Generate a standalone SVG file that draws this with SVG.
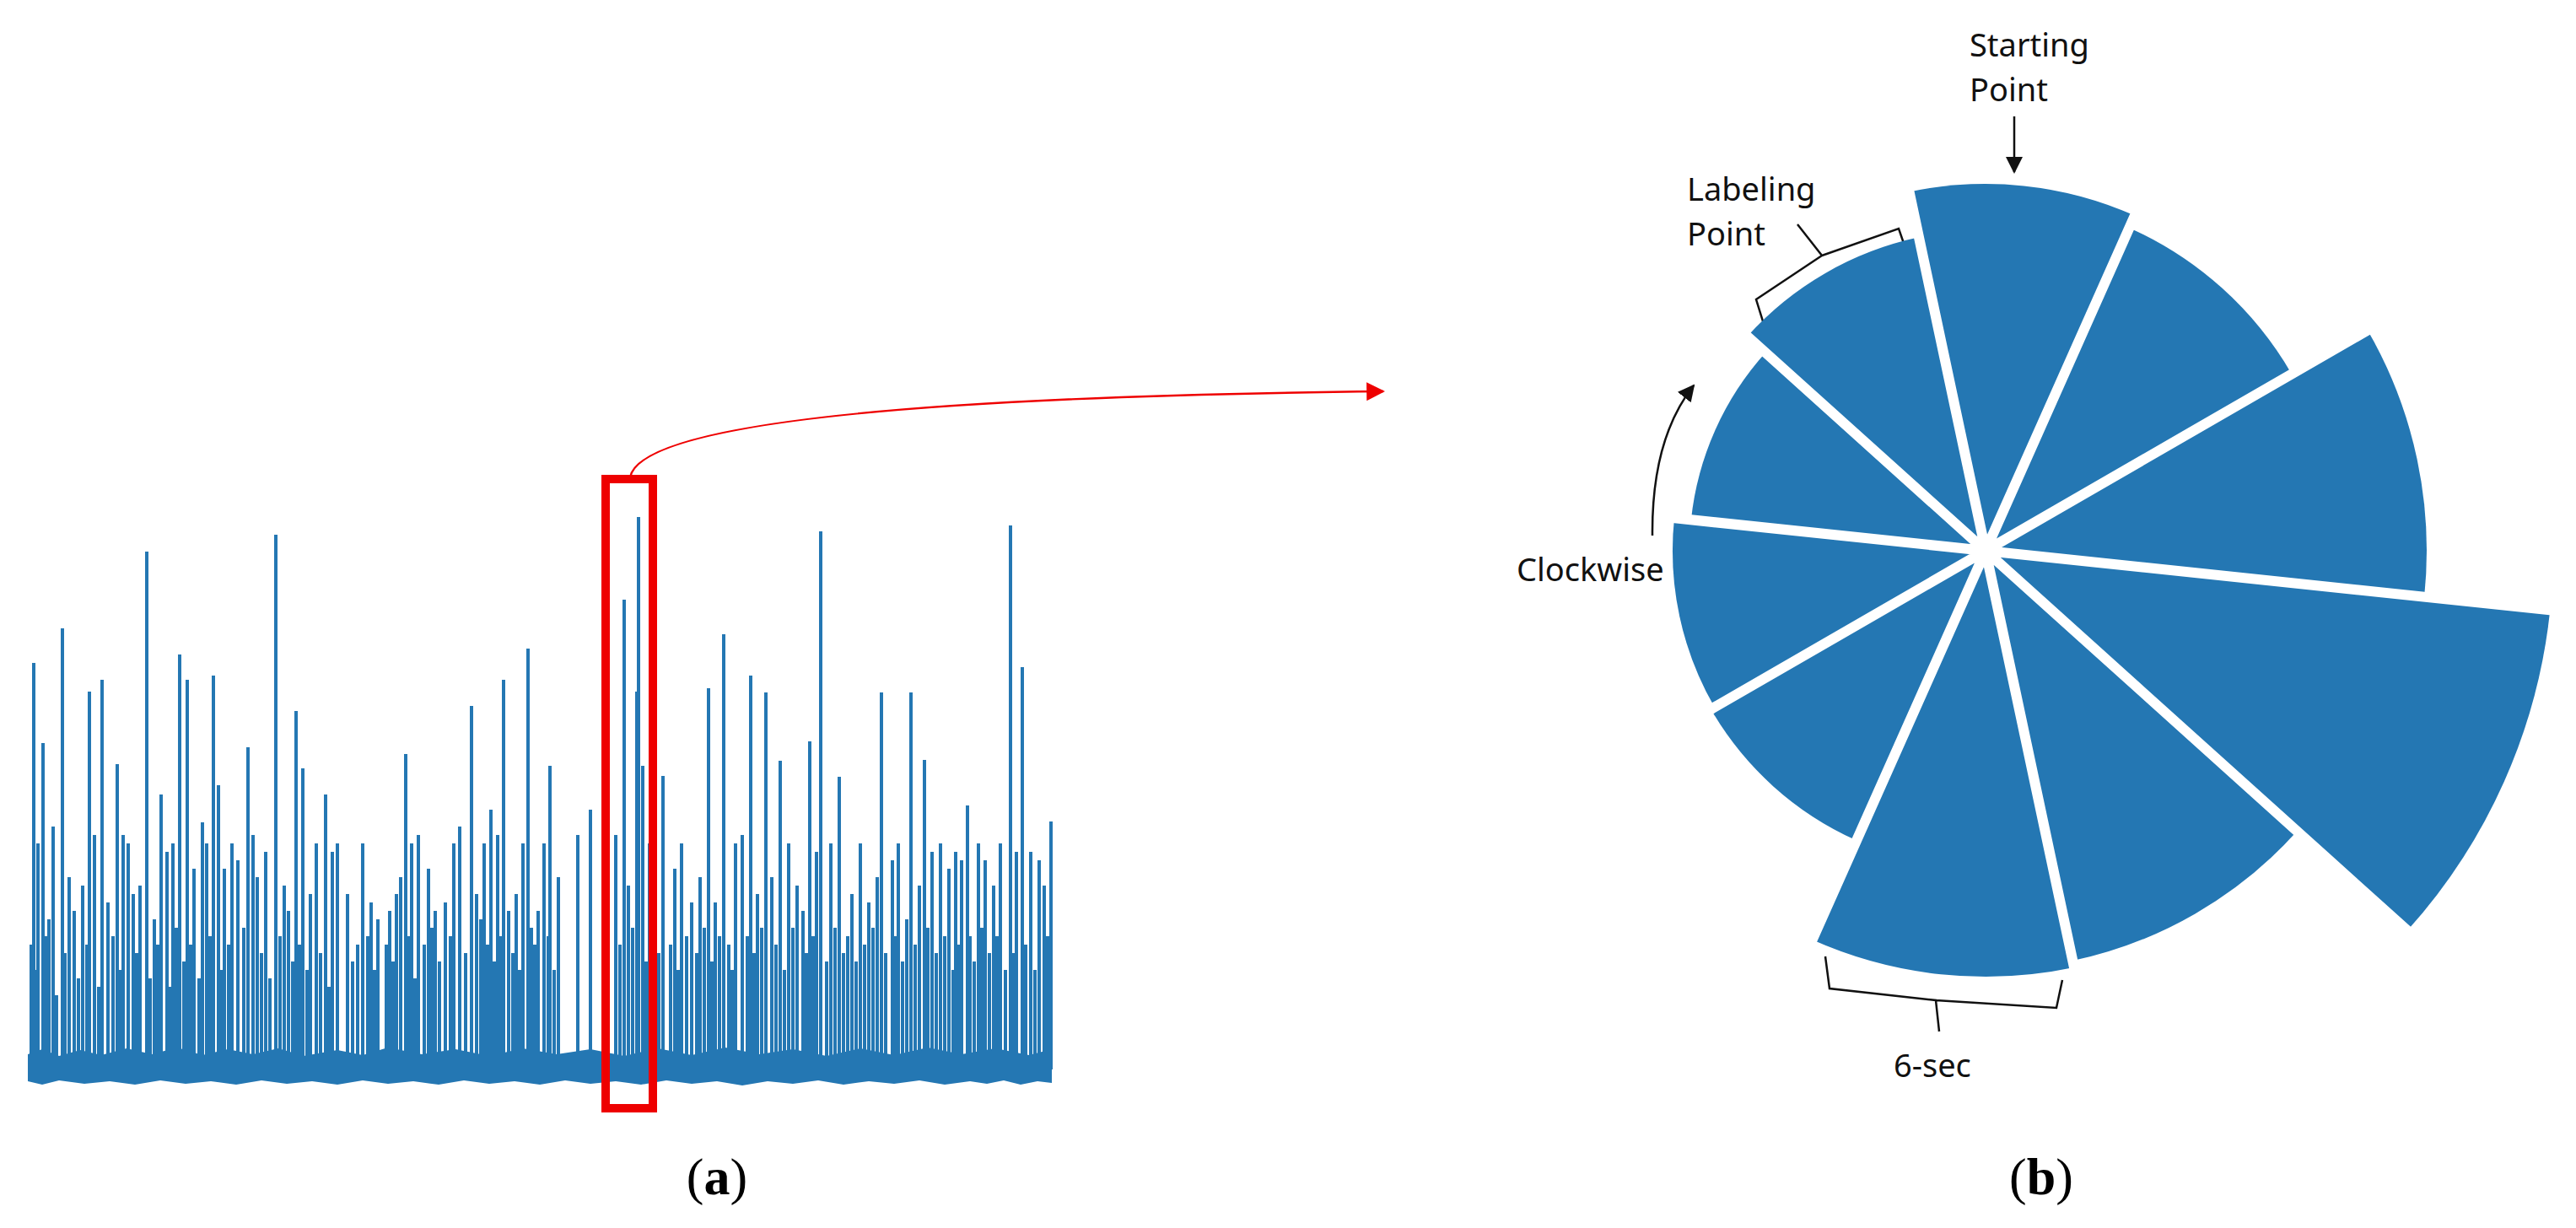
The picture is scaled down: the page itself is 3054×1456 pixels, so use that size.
<svg xmlns="http://www.w3.org/2000/svg" width="3054" height="1456" viewBox="0 0 3054 1456">
<style>
.sig{stroke:#2477b3;stroke-width:4;fill:none}
.sec{fill:#2477b3}
.gap{stroke:#fff;stroke-width:12}
.lbl{font-family:"Noto Sans","DejaVu Sans",sans-serif;font-size:38px;fill:#111}
.cap{font-family:"Liberation Serif",serif;font-size:62px;fill:#000}
.bk{stroke:#111;stroke-width:2.5;fill:none}
</style>
<defs>
<marker id="ar" viewBox="0 0 10 10" refX="9" refY="5" markerWidth="22" markerHeight="22" markerUnits="userSpaceOnUse" orient="auto"><path d="M0,0L10,5L0,10z" fill="#e00"/></marker>
<marker id="ak" viewBox="0 0 10 10" refX="9" refY="5" markerWidth="20" markerHeight="20" markerUnits="userSpaceOnUse" orient="auto"><path d="M0,0L10,5L0,10z" fill="#111"/></marker>
</defs>
<rect width="3054" height="1456" fill="#fff"/>
<g id="signal">
<path d="M33 1250L50 1244L70 1252L95 1245L120 1251L150 1243L180 1250L210 1242L240 1251L270 1244L300 1250L330 1243L360 1252L400 1245L430 1251L460 1242L500 1250L540 1244L580 1252L620 1243L660 1250L700 1244L740 1252L780 1243L820 1251L860 1242L900 1250L940 1244L980 1252L1020 1243L1060 1251L1100 1242L1140 1250L1180 1243L1220 1251L1247 1244V1284L1230 1282L1210 1286L1190 1281L1170 1285L1150 1282L1120 1286L1090 1281L1060 1285L1030 1282L1000 1286L970 1281L940 1285L910 1282L880 1287L850 1282L820 1285L790 1281L760 1286L730 1282L700 1285L670 1281L640 1286L610 1282L580 1285L550 1281L520 1286L490 1282L460 1285L430 1281L400 1286L370 1282L340 1285L310 1281L280 1286L250 1282L220 1285L190 1281L160 1286L130 1282L100 1285L70 1281L50 1286L33 1282Z" fill="#2477b3"/>
<path class="sig" d="M40 1268V786M51 1268V881M74 1268V745M106 1268V820M121 1268V806M139 1268V906M174 1268V654M191 1268V942M213 1268V776M222 1268V806M253 1268V801M259 1268V931M294 1268V886M327 1268V634M351 1268V843M359 1268V911M386 1268V942M481 1268V894M559 1268V837M597 1268V806M626 1268V769M652 1268V908M740 1268V711M757 1268V613M755 1268V820M762 1268V908M786 1268V920M840 1268V816M858 1268V752M890 1268V801M908 1268V821M925 1268V902M960 1268V879M973 1268V630M995 1268V921M1045 1268V821M1080 1268V821M1096 1268V901M1147 1268V955M1198 1268V623M1212 1268V791M1246 1268V974
M45 1268V1000M58 1268V1090M63 1268V980M82 1268V1040M88 1268V1080M98 1268V1050M112 1268V990M128 1268V1070M146 1268V990M152 1268V1000M158 1268V1060M166 1268V1050M183 1268V1090M198 1268V1010M205 1268V1000M230 1268V1030M240 1268V975M245 1268V1000M266 1268V1030M275 1268V1000M282 1268V1020M300 1268V990M305 1268V1040M315 1268V1010M337 1268V1050M342 1268V1080M368 1268V1060M375 1268V1000M394 1268V1010M400 1268V1000M412 1268V1060M430 1268V1000M440 1268V1070M448 1268V1090M462 1268V1080M470 1268V1060M475 1268V1040M488 1268V1000M496 1268V990M508 1268V1030M516 1268V1080M528 1268V1070M538 1268V1000M545 1268V980M565 1268V1060M574 1268V1000M582 1268V960M590 1268V990M603 1268V1080M612 1268V1060M620 1268V1000M638 1268V1080M645 1268V1000M662 1268V1040M685 1268V990M700 1268V960M730 1268V990M745 1268V1050M770 1268V1000M800 1268V1030M808 1268V1000M820 1268V1070M830 1268V1040M848 1268V1070M872 1268V1000M880 1268V990M898 1268V1060M915 1268V1040M935 1268V1000M945 1268V1050M952 1268V1080M968 1268V1010M985 1268V1000M1010 1268V1060M1020 1268V1000M1030 1268V1070M1040 1268V1040M1058 1268V1020M1065 1268V1000M1075 1268V1090M1090 1268V1050M1105 1268V1010M1115 1268V1000M1125 1268V1030M1133 1268V1010M1140 1268V1020M1160 1268V1000M1168 1268V1020M1178 1268V1050M1186 1268V1000M1205 1268V1010M1222 1268V1010M1232 1268V1020M1238 1268V1050
M37 1268V1120M43 1268V1150M54 1268V1110M67 1268V1180M77 1268V1130M93 1268V1160M103 1268V1120M117 1268V1170M134 1268V1110M142 1268V1150M162 1268V1130M178 1268V1160M187 1268V1120M201 1268V1170M209 1268V1100M218 1268V1140M226 1268V1120M236 1268V1160M249 1268V1110M263 1268V1150M271 1268V1120M289 1268V1100M310 1268V1130M320 1268V1160M332 1268V1110M347 1268V1140M355 1268V1120M364 1268V1150M380 1268V1130M390 1268V1170M418 1268V1140M424 1268V1120M436 1268V1110M444 1268V1150M458 1268V1120M466 1268V1140M484 1268V1110M492 1268V1160M503 1268V1120M512 1268V1100M521 1268V1140M534 1268V1110M552 1268V1130M570 1268V1090M578 1268V1120M586 1268V1140M594 1268V1110M608 1268V1130M616 1268V1150M630 1268V1100M634 1268V1120M650 1268V1110M657 1268V1150M735 1268V1120M750 1268V1100M766 1268V1140M775 1268V1110M781 1268V1130M795 1268V1120M804 1268V1150M814 1268V1110M826 1268V1130M835 1268V1100M844 1268V1140M853 1268V1110M864 1268V1120M868 1268V1150M886 1268V1110M894 1268V1130M903 1268V1100M920 1268V1120M930 1268V1150M940 1268V1100M956 1268V1130M964 1268V1110M980 1268V1140M990 1268V1100M1000 1268V1130M1005 1268V1110M1015 1268V1140M1025 1268V1120M1035 1268V1100M1050 1268V1130M1062 1268V1110M1070 1268V1140M1085 1268V1120M1100 1268V1100M1110 1268V1130M1120 1268V1110M1130 1268V1150M1137 1268V1120M1150 1268V1110M1155 1268V1140M1164 1268V1100M1173 1268V1130M1182 1268V1110M1192 1268V1150M1201 1268V1130M1216 1268V1120M1227 1268V1150M1242 1268V1110"/>
</g>
<g id="zoom-box"><rect x="718" y="568" width="56" height="746" fill="none" stroke="#e00" stroke-width="10"/></g>
<g id="connectors">
<path d="M747 566C760 500 1100 470 1640 464" fill="none" stroke="#e00" stroke-width="2.5" marker-end="url(#ar)"/>
<path class="bk" d="M2388 138V204" marker-end="url(#ak)"/>
<path class="bk" d="M1959 635Q1958 520 2008 457" marker-end="url(#ak)"/>
<path class="bk" d="M2095 397L2082 355L2160 303L2131 266M2160 303L2251 271L2262 303"/>
<path class="bk" d="M2164 1134L2169 1172L2295 1186L2299 1223M2295 1186L2438 1195L2445 1162"/>
</g>
<g id="rose">
<g transform="translate(2354 653)">
<path class="sec" d="M0 0L-90.4 -425.5A435 435 0 0 1 176.9 -397.4Z"/>
<path class="sec" d="M0 0L170.4 -382.8A419 419 0 0 1 362.9 -209.5Z"/>
<path class="sec" d="M0 0L452.9 -261.5A523 523 0 0 1 520.1 54.7Z"/>
<path class="sec" d="M0 0L669.3 70.3A673 673 0 0 1 500.1 450.3Z"/>
<path class="sec" d="M0 0L369.3 332.6A497 497 0 0 1 103.3 486.1Z"/>
<path class="sec" d="M0 0L105 494A505 505 0 0 1 -205.4 461.3Z"/>
<path class="sec" d="M0 0L-152.9 343.5A376 376 0 0 1 -325.6 188Z"/>
<path class="sec" d="M0 0L-321.3 185.5A371 371 0 0 1 -369 -38.8Z"/>
<path class="sec" d="M0 0L-349.1 -36.7A351 351 0 0 1 -260.8 -234.9Z"/>
<path class="sec" d="M0 0L-282.4 -254.3A380 380 0 0 1 -79 -371.7Z"/>
<path class="gap" d="M0 0L-91.5 -430.4M0 0L178.9 -401.9M0 0L459 -265M0 0L676.3 71.1M0 0L505.3 455M0 0L106 498.8M0 0L-207.4 465.9M0 0L-329.1 190M0 0L-372.9 -39.2M0 0L-286.1 -257.6"/>
<circle r="5" fill="#fff"/>
</g>
</g>
<g id="labels">
<text class="lbl" x="2335" y="67">Starting</text>
<text class="lbl" x="2335" y="120">Point</text>
<text class="lbl" x="2000" y="238">Labeling</text>
<text class="lbl" x="2000" y="291">Point</text>
<text class="lbl" x="1798" y="689">Clockwise</text>
<text class="lbl" x="2245" y="1277">6-sec</text>
<text class="cap" x="850" y="1416" text-anchor="middle">(<tspan font-weight="bold">a</tspan>)</text>
<text class="cap" x="2420" y="1416" text-anchor="middle">(<tspan font-weight="bold">b</tspan>)</text>
</g>
</svg>
